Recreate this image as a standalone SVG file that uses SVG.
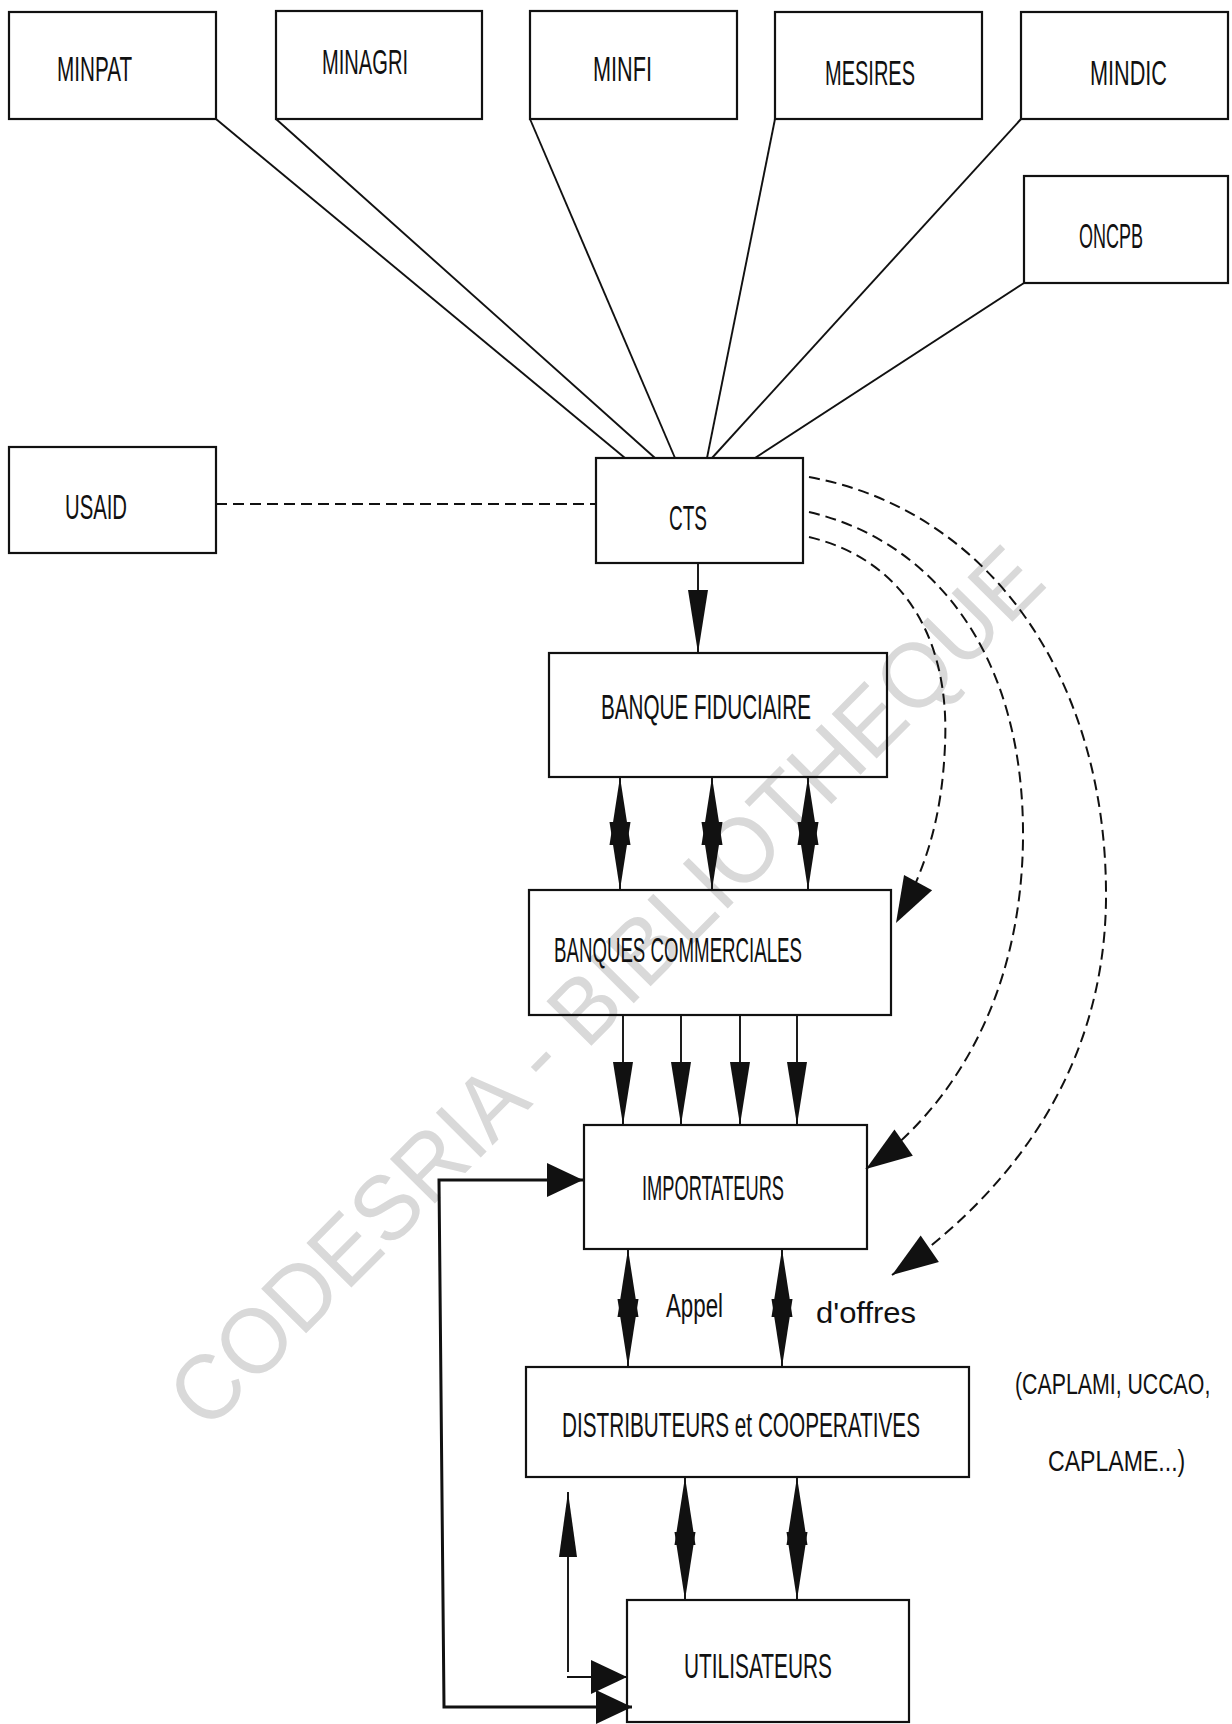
<svg xmlns="http://www.w3.org/2000/svg" width="1232" height="1724" viewBox="0 0 1232 1724">
<style>
.box{fill:none;stroke:#111;stroke-width:2.2}
.lbl{font-family:"Liberation Sans",Arial,sans-serif;font-size:35px;fill:#111}
.ln{fill:none;stroke:#111;stroke-width:1.9}
.dash{fill:none;stroke:#111;stroke-width:2;stroke-dasharray:11 6}
.loop{fill:none;stroke:#111;stroke-width:3}
.wm{font-family:"Liberation Sans",Arial,sans-serif;font-size:92px;fill:#d9d9d9}
</style>
<defs>
<marker id="sh" markerUnits="userSpaceOnUse" orient="auto" overflow="visible" markerWidth="10" markerHeight="10" refX="0" refY="0">
<path d="M0,0 L-63,-10 L-63,10 Z" fill="#111"/>
</marker>
<marker id="sp" markerUnits="userSpaceOnUse" orient="auto-start-reverse" overflow="visible" markerWidth="10" markerHeight="10" refX="0" refY="0">
<path d="M0,0 L-68,-10.5 L-68,10.5 Z" fill="#111"/>
</marker>
<marker id="up" markerUnits="userSpaceOnUse" orient="auto" overflow="visible" markerWidth="10" markerHeight="10" refX="0" refY="0">
<path d="M0,0 L-65,-9 L-65,9 Z" fill="#111"/>
</marker>
<marker id="bh" markerUnits="userSpaceOnUse" orient="auto-start-reverse" overflow="visible" markerWidth="10" markerHeight="10" refX="0" refY="0">
<path d="M0,0 L-36,-17 L-36,17 Z" fill="#111"/>
</marker>
<marker id="dh" markerUnits="userSpaceOnUse" orient="auto" overflow="visible" markerWidth="10" markerHeight="10" refX="0" refY="0">
<path d="M0,0 L-46,-16 L-46,16 Z" fill="#111"/>
</marker>
</defs>
<rect width="1232" height="1724" fill="#fff"/>
<g id="watermark">
<text class="wm" x="0" y="0" text-anchor="middle" textLength="1195" lengthAdjust="spacingAndGlyphs" transform="translate(628,1009) rotate(-45.2)">CODESRIA - BIBLIOTHEQUE</text>
</g>
<g id="connectors">
<line class="ln" x1="216" y1="119" x2="625" y2="458"/>
<line class="ln" x1="276" y1="119" x2="655" y2="458"/>
<line class="ln" x1="530" y1="119" x2="675" y2="458"/>
<line class="ln" x1="775" y1="119" x2="707" y2="458"/>
<line class="ln" x1="1021" y1="119" x2="712" y2="458"/>
<line class="ln" x1="1024" y1="283" x2="755" y2="458"/>
<line class="dash" x1="216" y1="504" x2="596" y2="504"/>
<path class="dash" d="M809,537 C905,560 950,640 945,745 C942,820 925,870 896,923" marker-end="url(#dh)"/>
<path class="dash" d="M809,512 C930,540 1025,650 1023,840 C1021,1000 950,1110 866,1169" marker-end="url(#dh)"/>
<path class="dash" d="M809,477 C990,510 1108,680 1106,900 C1104,1080 1000,1200 892,1275" marker-end="url(#dh)"/>
<line class="ln" x1="698" y1="563" x2="698" y2="653" marker-end="url(#sh)"/>
<line class="ln" x1="620" y1="777" x2="620" y2="890" marker-start="url(#sp)" marker-end="url(#sp)"/>
<line class="ln" x1="712" y1="777" x2="712" y2="890" marker-start="url(#sp)" marker-end="url(#sp)"/>
<line class="ln" x1="808" y1="777" x2="808" y2="890" marker-start="url(#sp)" marker-end="url(#sp)"/>
<line class="ln" x1="623" y1="1015" x2="623" y2="1125" marker-end="url(#sh)"/>
<line class="ln" x1="681" y1="1015" x2="681" y2="1125" marker-end="url(#sh)"/>
<line class="ln" x1="740" y1="1015" x2="740" y2="1125" marker-end="url(#sh)"/>
<line class="ln" x1="797" y1="1015" x2="797" y2="1125" marker-end="url(#sh)"/>
<line class="ln" x1="628" y1="1249" x2="628" y2="1367" marker-start="url(#sp)" marker-end="url(#sp)"/>
<line class="ln" x1="782" y1="1249" x2="782" y2="1367" marker-start="url(#sp)" marker-end="url(#sp)"/>
<line class="ln" x1="685" y1="1477" x2="685" y2="1600" marker-start="url(#sp)" marker-end="url(#sp)"/>
<line class="ln" x1="797" y1="1477" x2="797" y2="1600" marker-start="url(#sp)" marker-end="url(#sp)"/>
<path class="ln" d="M568,1672 V1492" marker-end="url(#up)"/>
<path class="ln" d="M567,1677 H627" marker-end="url(#bh)"/>
<path class="loop" d="M583,1180 H439 L444,1707 H632" marker-start="url(#bh)" marker-end="url(#bh)"/>
</g>
<g id="n-minpat"><rect class="box" x="9" y="12" width="207" height="107"/><text class="lbl" x="57" y="81" textLength="75" lengthAdjust="spacingAndGlyphs">MINPAT</text></g>
<g id="n-minagri"><rect class="box" x="276" y="11" width="206" height="108"/><text class="lbl" x="322" y="74" textLength="86" lengthAdjust="spacingAndGlyphs">MINAGRI</text></g>
<g id="n-minfi"><rect class="box" x="530" y="11" width="207" height="108"/><text class="lbl" x="593" y="81" textLength="59" lengthAdjust="spacingAndGlyphs">MINFI</text></g>
<g id="n-mesires"><rect class="box" x="775" y="12" width="207" height="107"/><text class="lbl" x="825" y="85" textLength="90" lengthAdjust="spacingAndGlyphs">MESIRES</text></g>
<g id="n-mindic"><rect class="box" x="1021" y="12" width="207" height="107"/><text class="lbl" x="1090" y="85" textLength="77" lengthAdjust="spacingAndGlyphs">MINDIC</text></g>
<g id="n-oncpb"><rect class="box" x="1024" y="176" width="204" height="107"/><text class="lbl" x="1079" y="248" textLength="64" lengthAdjust="spacingAndGlyphs">ONCPB</text></g>
<g id="n-usaid"><rect class="box" x="9" y="447" width="207" height="106"/><text class="lbl" x="65" y="519" textLength="62" lengthAdjust="spacingAndGlyphs">USAID</text></g>
<g id="n-cts"><rect class="box" x="596" y="458" width="207" height="105"/><text class="lbl" x="669" y="530" textLength="38" lengthAdjust="spacingAndGlyphs">CTS</text></g>
<g id="n-bf"><rect class="box" x="549" y="653" width="338" height="124"/><text class="lbl" x="601" y="719" textLength="210" lengthAdjust="spacingAndGlyphs">BANQUE FIDUCIAIRE</text></g>
<g id="n-bc"><rect class="box" x="529" y="890" width="362" height="125"/><text class="lbl" x="554" y="962" textLength="248" lengthAdjust="spacingAndGlyphs">BANQUES COMMERCIALES</text></g>
<g id="n-imp"><rect class="box" x="584" y="1125" width="283" height="124"/><text class="lbl" x="642" y="1200" textLength="142" lengthAdjust="spacingAndGlyphs">IMPORTATEURS</text></g>
<g id="n-dist"><rect class="box" x="526" y="1367" width="443" height="110"/><text class="lbl" x="562" y="1437" textLength="358" lengthAdjust="spacingAndGlyphs">DISTRIBUTEURS et COOPERATIVES</text></g>
<g id="n-util"><rect class="box" x="627" y="1600" width="282" height="122"/><text class="lbl" x="684" y="1678" textLength="148" lengthAdjust="spacingAndGlyphs">UTILISATEURS</text></g>
<g id="labels">
<text class="lbl" x="666" y="1317" style="font-size:33px" textLength="57" lengthAdjust="spacingAndGlyphs">Appel</text>
<text class="lbl" x="816" y="1323" style="font-size:30px" textLength="100" lengthAdjust="spacingAndGlyphs">d'offres</text>
<text class="lbl" x="0" y="0" style="font-size:29px" transform="translate(1015,1394) scale(0.735,1)">(CAPLAMI, UCCAO,</text>
<text class="lbl" x="0" y="0" style="font-size:30px" transform="translate(1048,1471) scale(0.77,1)">CAPLAME...)</text>
</g>
</svg>
